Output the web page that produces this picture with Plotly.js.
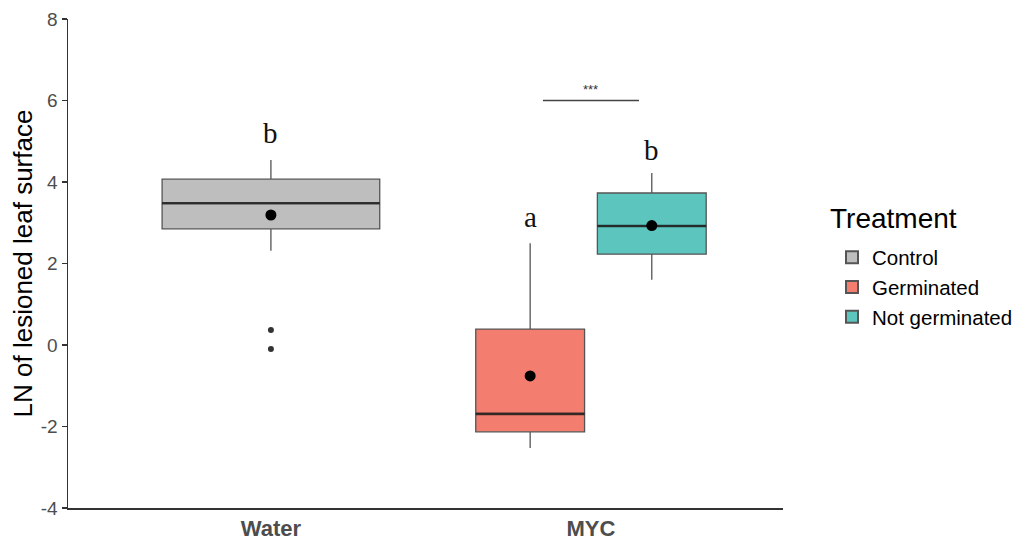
<!DOCTYPE html>
<html>
<head>
<meta charset="utf-8">
<script src="https://cdn.plot.ly/plotly-3.0.1.min.js"></script>
<style>html,body{margin:0;padding:0;background:#fff;}#chart{width:1027px;height:543px;}</style>
</head>
<body>
<div id="chart"></div>
<script>
// ---- data ----
const categories = ['Water', 'MYC'];
const treatments = ['Control', 'Germinated', 'Not germinated'];
const treatmentGroup = ['Water', 'MYC', 'MYC'];
const q1 = [2.85, -2.13, 2.23];
const median = [3.48, -1.69, 2.92];
const q3 = [4.07, 0.39, 3.73];
const lowerWhisker = [2.31, -2.53, 1.60];
const upperWhisker = [4.54, 2.50, 4.22];
const means = [3.19, -0.76, 2.93];
const outlierGroup = ['Control', 'Control'];
const outlierValues = [0.37, -0.10];
const letters = ['b', 'a', 'b'];
const letterY = [5.2, 3.15, 4.78];
const sigLabel = '***';
const sigY = 6.0;
const yTicks = [-4, -2, 0, 2, 4, 6, 8];
const legendTitle = 'Treatment';

// ---- styling / layout ----
const fills = ['#BEBEBE', '#F37E6F', '#5CC5BE'];
const dodge = [0, -0.19, 0.19];
const widths = [0.68, 0.34, 0.34];

const catPos = c => categories.indexOf(c) + 1;
const xpos = i => catPos(treatmentGroup[i]) + dodge[i];

const traces = [];
treatments.forEach((t, i) => {
  traces.push({
    type: 'box',
    name: t,
    x: [xpos(i)],
    q1: [q1[i]], median: [median[i]], q3: [q3[i]],
    lowerfence: [lowerWhisker[i]], upperfence: [upperWhisker[i]],
    width: widths[i],
    whiskerwidth: 0,
    fillcolor: fills[i],
    line: {color: '#555555', width: 1.3},
    hoverinfo: 'skip',
    showlegend: true
  });
});
// thicker median lines
treatments.forEach((t, i) => {
  traces.push({
    type: 'scatter', mode: 'lines',
    x: [xpos(i) - widths[i] / 2, xpos(i) + widths[i] / 2],
    y: [median[i], median[i]],
    line: {color: 'rgba(20,20,20,0.75)', width: 2.6},
    showlegend: false, hoverinfo: 'skip'
  });
});
// outliers
traces.push({
  type: 'scatter', mode: 'markers',
  x: outlierGroup.map(g => xpos(treatments.indexOf(g))),
  y: outlierValues,
  marker: {color: '#333333', size: 6},
  showlegend: false, hoverinfo: 'skip'
});
// means
traces.push({
  type: 'scatter', mode: 'markers',
  x: treatments.map((t, i) => xpos(i)),
  y: means,
  marker: {color: '#000000', size: 11},
  showlegend: false, hoverinfo: 'skip'
});
// significance bar
traces.push({
  type: 'scatter', mode: 'lines',
  x: [xpos(1) + 0.04, xpos(2) - 0.04],
  y: [sigY, sigY],
  line: {color: '#444444', width: 1.3},
  showlegend: false, hoverinfo: 'skip'
});

const annotations = letters.map((l, i) => ({
  x: xpos(i), y: letterY[i], xref: 'x', yref: 'y',
  text: l, showarrow: false,
  font: {family: 'Liberation Serif, DejaVu Serif, serif', size: 29, color: '#111'}
}));
annotations.push({
  x: (xpos(1) + xpos(2)) / 2, y: sigY, xref: 'x', yref: 'y', yanchor: 'bottom', yshift: 2,
  text: sigLabel, showarrow: false,
  font: {family: 'Liberation Sans, Arial, sans-serif', size: 13, color: '#333'}
});
// legend title
annotations.push({
  x: 1.0635, y: 0.592, xref: 'paper', yref: 'paper', xanchor: 'left', yanchor: 'middle',
  text: legendTitle, showarrow: false,
  font: {family: 'Liberation Sans, Arial, sans-serif', size: 28, color: '#000'}
});

const layout = {
  width: 1027, height: 543,
  margin: {l: 68, r: 244, t: 19, b: 35},
  paper_bgcolor: '#fff', plot_bgcolor: '#fff',
  font: {family: 'Liberation Sans, Arial, sans-serif'},
  xaxis: {
    range: [0.366, 2.60],
    tickvals: categories.map(catPos),
    ticktext: categories.map(c => '<b>' + c + '</b>'),
    showline: true, linecolor: '#333', linewidth: 1.5,
    ticks: '', showgrid: false, zeroline: false,
    tickfont: {size: 22, color: '#4D4D4D'}
  },
  yaxis: {
    range: [-4, 8],
    tickvals: yTicks,
    ticktext: yTicks.map(v => String(v)),
    showline: true, linecolor: '#333', linewidth: 1.5,
    ticks: 'outside', ticklen: 5, tickcolor: '#333', tickwidth: 1.3,
    showgrid: false, zeroline: false,
    tickfont: {size: 19, color: '#4D4D4D'},
    title: {text: 'LN of lesioned leaf surface', font: {size: 26, color: '#000'}, standoff: 0}
  },
  legend: {
    xref: 'container', yref: 'container',
    x: 832 / 1027, xanchor: 'left', y: 1 - 287 / 543, yanchor: 'middle',
    font: {size: 20.5, color: '#000'},
    tracegroupgap: 0, itemsizing: 'constant'
  },
  annotations: annotations,
  showlegend: true
};

Plotly.newPlot('chart', traces, layout, {displayModeBar: false, staticPlot: true});
</script>
</body>
</html>
